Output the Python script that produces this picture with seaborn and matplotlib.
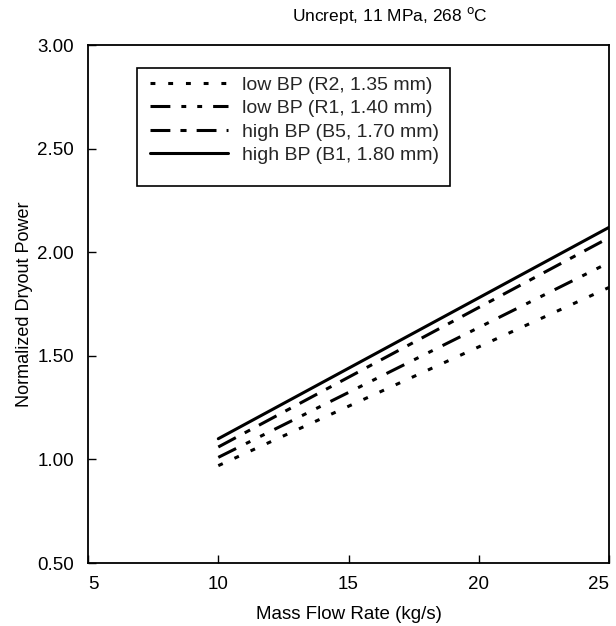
import numpy as np
import pandas as pd
import matplotlib
matplotlib.use("Agg")
import matplotlib.pyplot as plt
from matplotlib.patches import Rectangle
import seaborn as sns

# Data
flow = [10, 25]
series_names = ["low BP (R2, 1.35 mm)", "low BP (R1, 1.40 mm)",
                "high BP (B5, 1.70 mm)", "high BP (B1, 1.80 mm)"]
r2_vals = [0.97, 1.83]
r1_vals = [1.01, 1.95]
b5_vals = [1.06, 2.07]
b1_vals = [1.10, 2.12]
x_ticks = [5, 10, 15, 20, 25]
y_ticks = [0.50, 1.00, 1.50, 2.00, 2.50, 3.00]

rows = []
for name, vals in zip(series_names, [r2_vals, r1_vals, b5_vals, b1_vals]):
    for x, y in zip(flow, vals):
        rows.append({"flow": x, "power": y, "series": name})
df = pd.DataFrame(rows)

sns.set_theme(style="white")
plt.rcParams['font.family'] = ['Liberation Sans', 'DejaVu Sans']

fig = plt.figure(figsize=(6.16, 6.26), dpi=100)
ax = fig.add_axes([0.143, 0.1006, 0.8456, 0.8274])

LW = 2.2
dashes = {
    series_names[0]: (1.6, 4.2),
    series_names[1]: (6.5, 3.6, 1.6, 3.6, 1.6, 3.6),
    series_names[2]: (6.5, 3.3, 2.0, 3.3),
    series_names[3]: "",
}
sns.lineplot(data=df, x="flow", y="power", style="series", style_order=series_names,
             dashes=dashes, color="black", linewidth=LW, ax=ax, legend=True)

ax.set_xlim(5, 25)
ax.set_ylim(0.5, 3.0)
ax.set_xticks(x_ticks)
ax.set_xticklabels([str(t) for t in x_ticks])
ax.set_yticks(y_ticks)
ax.set_yticklabels([f"{t:.2f}" for t in y_ticks])
ax.tick_params(direction="in", length=6, width=1, colors="black", labelsize=13.5,
               bottom=True, left=True)
ax.tick_params(axis="x", pad=9)
ax.tick_params(axis="y", pad=10)
xlabels = ax.get_xticklabels()
xlabels[0].set_horizontalalignment("left")
xlabels[-1].set_horizontalalignment("right")
for s in ax.spines.values():
    s.set_color("black")
    s.set_linewidth(1.3)

ax.set_xlabel("Mass Flow Rate (kg/s)", fontsize=13.5, color="black", labelpad=10)
ax.set_ylabel("Normalized Dryout Power", fontsize=13, color="black", labelpad=3)
fig.text(0.633, 0.975, "Uncrept, 11 MPa, 268 $^{\\mathrm{o}}$C", ha="center", va="center",
         fontsize=12.5, color="black")

leg = ax.legend(loc="upper left", bbox_to_anchor=(0.119, 0.94), frameon=False,
                fontsize=14, handlelength=4.0, borderpad=0.0, borderaxespad=0.0,
                labelspacing=0.3, handletextpad=0.75)
for line in leg.get_lines():
    line.set_linewidth(LW)

ax.add_patch(Rectangle((0.094, 0.728), 0.601, 0.228, transform=ax.transAxes,
                       fill=False, edgecolor="black", linewidth=1.2, zorder=5))

fig.savefig("out.png", dpi=100, facecolor="white")
